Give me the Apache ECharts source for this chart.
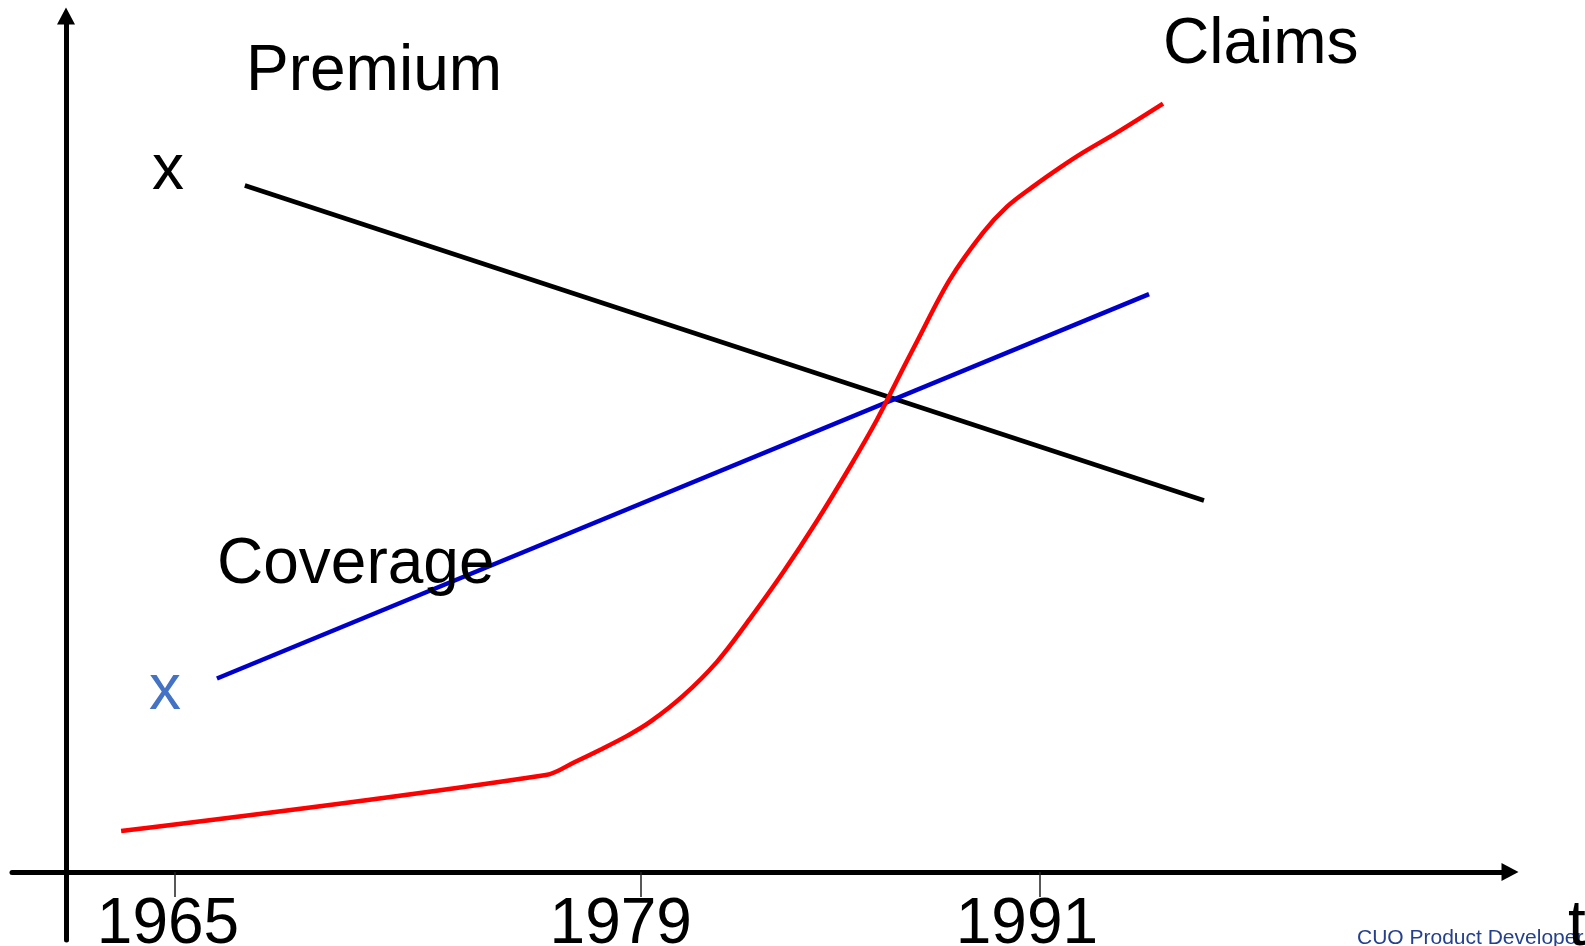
<!DOCTYPE html>
<html>
<head>
<meta charset="utf-8">
<script src="https://cdn.jsdelivr.net/npm/echarts@6/dist/echarts.min.js"></script>
<style>
  html, body { margin: 0; padding: 0; background: #ffffff; }
  #chart { width: 1585px; height: 946px; }
</style>
</head>
<body>
<div id="chart"></div>
<script>
// ---- data ----
const tickYears = [1965, 1979, 1991];

const premiumYears  = [1967.10, 1995.93];
const premiumValues = [80.2, 43.4];

const coverageYears  = [1966.26, 1994.28];
const coverageValues = [22.6, 67.5];

const claimsYears  = [1963.38, 1976.15, 1977.02, 1977.77, 1978.59, 1979.28, 1980.27, 1981.29, 1982.28, 1983.27, 1984.30, 1985.29, 1986.10, 1986.79, 1987.30, 1988.29, 1989.29, 1990.01, 1990.79, 1991.60, 1992.29, 1993.31, 1994.70];
const claimsValues = [4.79, 11.34, 12.86, 14.26, 15.90, 17.53, 20.57, 24.55, 29.57, 34.95, 41.03, 47.34, 52.83, 58.09, 61.95, 69.20, 74.69, 77.73, 80.07, 82.29, 84.04, 86.38, 89.77];

const labelTexts = ['Premium', 'Coverage', 'Claims'];

// ---- helpers ----
function zip(xs, ys) { return xs.map((x, i) => [x, ys[i]]); }

const FONT = '"Liberation Sans", Arial, Helvetica, sans-serif';
const labelShift = { 1965: 14, 1979: 40, 1991: 26 };
const rich = {};
tickYears.forEach(y => {
  rich['a' + y] = { fontSize: 64, fontFamily: FONT, color: '#000', padding: [0, labelShift[y] || 0, 0, 0] };
});

const chart = echarts.init(document.getElementById('chart'), null, { renderer: 'canvas' });

const option = {
  animation: false,
  backgroundColor: '#ffffff',
  grid: [
    { left: 12, right: 75, top: 16, bottom: 74, containLabel: false, outerBoundsMode: 'none' },
    { left: 12, right: 75, top: 16, bottom: 6, containLabel: false, outerBoundsMode: 'none' }
  ],
  xAxis: [
    {
      gridIndex: 0,
      type: 'value',
      min: 1960.1,
      max: 2005.13,
      splitLine: { show: false },
      axisLine: {
        show: true,
        onZero: false,
        symbol: ['none', 'triangle'],
        symbolSize: [18, 17],
        lineStyle: { color: '#000', width: 5 }
      },
      axisTick: {
        show: true,
        customValues: tickYears,
        inside: false,
        length: 25,
        lineStyle: { color: '#222', width: 1.5 }
      },
      axisLabel: {
        show: true,
        customValues: tickYears,
        margin: 21,
        formatter: v => '{a' + v + '|' + v + '}',
        rich: rich
      }
    },
    {
      gridIndex: 1,
      type: 'value',
      min: 1960.1,
      max: 2005.13,
      show: false
    }
  ],
  yAxis: [
    {
      gridIndex: 0,
      type: 'value',
      min: 0,
      max: 100,
      show: false
    },
    {
      gridIndex: 1,
      type: 'value',
      min: -7.95,
      max: 100,
      offset: -54,
      splitLine: { show: false },
      axisTick: { show: false },
      axisLabel: { show: false },
      axisLine: {
        show: true,
        onZero: false,
        symbol: ['none', 'triangle'],
        symbolSize: [18, 17],
        lineStyle: { color: '#000', width: 5 }
      }
    }
  ],
  series: [
    {
      name: 'Premium', type: 'line', showSymbol: false, silent: true,
      xAxisIndex: 0, yAxisIndex: 0,
      data: zip(premiumYears, premiumValues),
      lineStyle: { color: '#000000', width: 4.5 }, z: 3
    },
    {
      name: 'Coverage', type: 'line', showSymbol: false, silent: true,
      xAxisIndex: 0, yAxisIndex: 0,
      data: zip(coverageYears, coverageValues),
      lineStyle: { color: '#0000CC', width: 4.5 }, z: 4
    },
    {
      name: 'Claims', type: 'line', showSymbol: false, silent: true,
      xAxisIndex: 0, yAxisIndex: 0,
      data: zip(claimsYears, claimsValues),
      smooth: 0.35,
      lineStyle: { color: '#FF0000', width: 4.5, join: 'round' }, z: 5
    }
  ],
  graphic: [
    { type: 'text', z: 10, style: { text: labelTexts[0], x: 246, y: 72, font: '64px ' + FONT, fill: '#000', textVerticalAlign: 'middle' } },
    { type: 'text', z: 10, style: { text: 'x', x: 152, y: 171, font: '64px ' + FONT, fill: '#000', textVerticalAlign: 'middle' } },
    { type: 'text', z: 10, style: { text: labelTexts[1], x: 217, y: 565, font: '64px ' + FONT, fill: '#000', textVerticalAlign: 'middle' } },
    { type: 'text', z: 10, style: { text: 'x', x: 149, y: 691, font: '64px ' + FONT, fill: '#4472C4', textVerticalAlign: 'middle' } },
    { type: 'text', z: 10, style: { text: labelTexts[2], x: 1163, y: 45, font: '64px ' + FONT, fill: '#000', textVerticalAlign: 'middle' } },
    { type: 'text', z: 10, style: { text: 'CUO Product Developer', x: 1357, y: 938, font: '21px ' + FONT, fill: '#24408E', textVerticalAlign: 'middle' } },
    { type: 'text', z: 11, style: { text: 't', x: 1568, y: 927, font: '64px ' + FONT, fill: '#000', textVerticalAlign: 'middle' } }
  ]
};

chart.setOption(option);
</script>
</body>
</html>
